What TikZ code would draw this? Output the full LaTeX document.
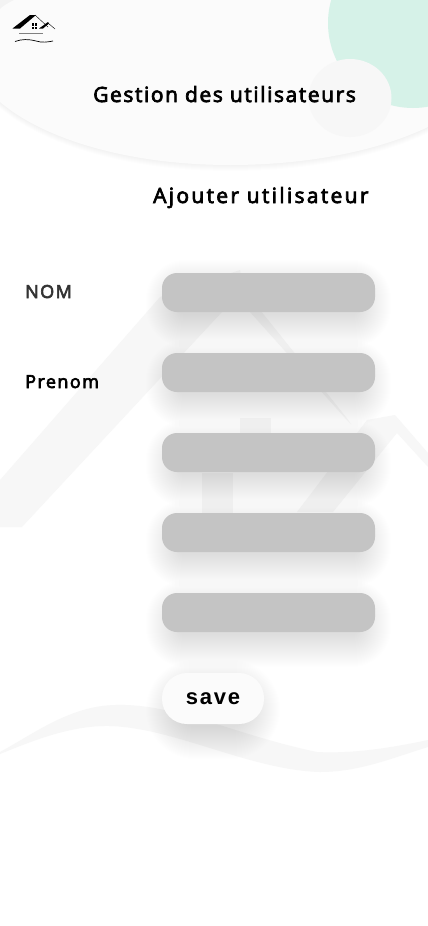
\documentclass[tikz,border=0pt]{standalone}
\usepackage{fontspec}
\setmainfont{Open Sans}
\newfontfamily\savefont[LetterSpace=8]{Liberation Sans}
\newfontfamily\titlefont[LetterSpace=7.5,FakeBold=3.5]{Open Sans}
\newfontfamily\subtitlefont[LetterSpace=11,FakeBold=3.5]{Open Sans}
\newfontfamily\labelfont[LetterSpace=8,FakeBold=3.5]{Open Sans}
\usetikzlibrary{positioning}
\definecolor{blobgray}{HTML}{FBFBFB}
\definecolor{mint}{HTML}{D6F2E8}
\definecolor{markgray}{HTML}{F7F7F7}
\definecolor{fieldgray}{HTML}{C4C4C4}
\tikzstyle{title}=[inner sep=0pt,anchor=base west,font=\titlefont\fontsize{21}{26}\selectfont]
\tikzstyle{subtitle}=[inner sep=0pt,anchor=base west,font=\subtitlefont\fontsize{21}{26}\selectfont]
\tikzstyle{label}=[inner sep=0pt,anchor=base west,font=\labelfont\fontsize{18}{22}\selectfont]
\tikzstyle{field}=[fill=fieldgray,rounded corners=15pt,minimum width=213pt,minimum height=39pt,inner sep=0pt,outer sep=0pt]
\tikzstyle{savebox}=[fill=blobgray,rounded corners=25pt,minimum width=102pt,minimum height=51pt,inner sep=0pt,outer sep=0pt,font=\savefont\bfseries\fontsize{22}{26}\selectfont]

\begin{document}
\begin{tikzpicture}[x=1pt,y=-1pt]
\useasboundingbox (0,0) rectangle (428,926);
\fill[white] (0,0) rectangle (428,926);
% header
\foreach \s in {1,...,6}
    \fill[black,opacity=.006] (0,{102+\s}) .. controls (45,{140+\s}) and (130,{165+\s}) .. (230,{165+\s}) .. controls (310,{165+\s}) and (380,{150+\s}) .. (428,{127+\s}) -- (428,0) -- (0,0) -- cycle;
\fill[blobgray] (0,102) .. controls (45,140) and (130,165) .. (230,165) .. controls (310,165) and (380,150) .. (428,127) -- (428,0) -- (14,0) .. controls (8,3) and (3,6) .. (0,9) -- cycle;
\begin{scope}
    \clip (0,0) rectangle (428,926);
    \fill[mint] (413,23) circle (85);
\end{scope}
\fill[markgray] (350,98) ellipse (41.5 and 39);
% house
\fill[markgray] (0,480) -- (160,297) -- (240,270) -- (245,300) -- (222,312) -- (22,527) -- (0,527) -- cycle;
\fill[markgray] (240,285) -- (346,417) -- (351,424) -- (345,418) -- (250,312) -- cycle;
\fill[markgray] (240,418) rectangle (271,440);
\fill[markgray] (202,473) rectangle (233,520);
\fill[markgray] (297,512) -- (367,420) -- (395,415) -- (428,453) -- (428,467) -- (397,433) -- (333,512) -- cycle;
% wave
\fill[markgray] (0,752) .. controls (35,733) and (70,706) .. (115,705) .. controls (175,703) and (235,735) .. (317,752) .. controls (355,754) and (395,747) .. (428,740) -- (428,747) .. controls (395,757) and (360,772) .. (320,772) .. controls (250,770) and (175,728) .. (110,726) .. controls (70,725) and (30,742) .. (0,754) -- cycle;
% logo
\fill[black] (12.5,28.5) -- (30,15) -- (36,15) -- (20,28.5) -- cycle;
\draw[black,line width=.4pt] (35,15) -- (48,27);
\fill[black] (39,28.5) -- (48,22) -- (49,23.5) -- (43,28.5) -- cycle;
\draw[black,line width=.4pt] (48,23) -- (55,29);
\fill[black] (32,23) rectangle (37,29);
\draw[white,line width=.4pt] (34.5,23) -- (34.5,29) (32,26) -- (37,26);
\draw[gray,line width=1pt] (19,33) -- (43,33);
\draw[black,line width=.7pt] (15,41.5) .. controls (22,39) and (28,39) .. (36,41) .. controls (42,43) and (48,42) .. (53,41);
% shadows
\foreach \y in {273,353,433,513,593}
    \foreach \s in {24,23,...,-8}
        \fill[black,opacity=.003,rounded corners={15+\s}] ({170-\s},{\y+11-\s}) rectangle ({367+\s},{\y+50+\s});
\foreach \s in {24,23,...,-8}
    \fill[black,opacity=.003,rounded corners={25+\s}] ({170-\s},{684-\s}) rectangle ({256+\s},{735+\s});
% form
\node[field] (nom) at (268.5,292.5) {};
\node[field,below=41pt of nom] (prenom) {};
\node[field,below=41pt of prenom] (champa) {};
\node[field,below=41pt of champa] (champb) {};
\node[field,below=41pt of champb] (champc) {};
\node[savebox,below=41pt of champc.south west,anchor=north west] (save) {save};
\node[title] (gestion) at (93,102) {Gestion des utilisateurs};
\node[subtitle] (ajouter) at (153,203) {Ajouter utilisateur};
\node[label,text=black!80] (lblnom) at (25,298) {NOM};
\node[label] (lblprenom) at (25,388) {Prenom};
\end{tikzpicture}
\end{document}
